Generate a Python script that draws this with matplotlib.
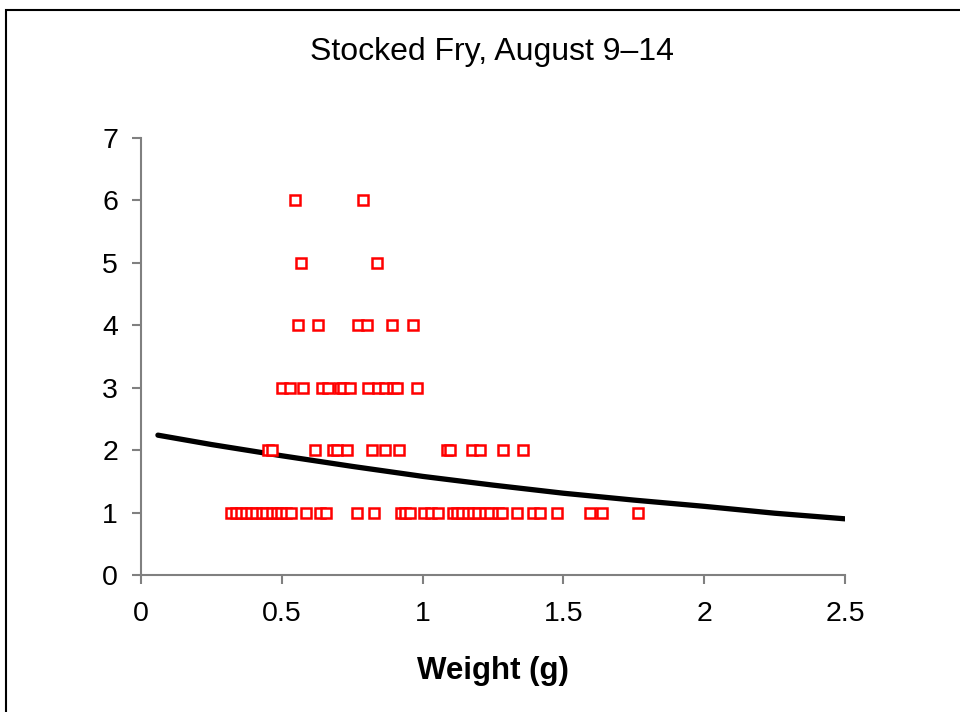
import matplotlib
matplotlib.use("Agg")
import matplotlib.pyplot as plt
from matplotlib.patches import Rectangle

plt.rcParams["font.family"] = ["Liberation Sans", "DejaVu Sans"]

# fry counts per weight
weight_1 = [0.320, 0.337, 0.355, 0.373, 0.391, 0.408, 0.430, 0.444, 0.465, 0.483,
            0.497, 0.515, 0.533, 0.586, 0.636, 0.657, 0.767, 0.827, 0.923, 0.938,
            0.955, 1.005, 1.030, 1.055, 1.108, 1.122, 1.140, 1.161, 1.179, 1.197,
            1.222, 1.239, 1.268, 1.282, 1.335, 1.392, 1.417, 1.477, 1.594, 1.637,
            1.765]
weight_2 = [0.451, 0.465, 0.618, 0.682, 0.696, 0.732, 0.820, 0.866, 0.916, 1.087,
            1.097, 1.175, 1.204, 1.286, 1.357]
weight_3 = [0.501, 0.529, 0.575, 0.643, 0.665, 0.707, 0.717, 0.742, 0.806, 0.842,
            0.866, 0.895, 0.909, 0.980]
weight_4 = [0.558, 0.629, 0.771, 0.803, 0.891, 0.966]
weight_5 = [0.568, 0.838]
weight_6 = [0.547, 0.788]

# trend line
trend_x = [0.06, 0.25, 0.5, 0.75, 1.0, 1.25, 1.5, 1.75, 2.0, 2.25, 2.5]
trend_y = [2.24, 2.09, 1.91, 1.74, 1.58, 1.44, 1.31, 1.20, 1.10, 0.99, 0.90]

x_ticks = [0, 0.5, 1, 1.5, 2, 2.5]
x_tick_labels = ["0", "0.5", "1", "1.5", "2", "2.5"]
y_ticks = list(range(0, 8))

fig = plt.figure(figsize=(9.6, 7.12), dpi=100)
ax = fig.add_axes([0.1469, 0.1924, 0.7333, 0.6138])

# outer chart frame (cut off at right/bottom in the original)
fig.patches.append(Rectangle((6 / 960, -0.1), 1.2, 1.1 - 10 / 712,
                             transform=fig.transFigure, fill=False,
                             edgecolor="black", linewidth=1.5))

groups = [weight_1, weight_2, weight_3, weight_4, weight_5, weight_6]
for count, weights in enumerate(groups, start=1):
    ax.plot(weights, [count] * len(weights), linestyle="none", marker="s",
            markersize=6.5, markerfacecolor="white", markeredgecolor="red",
            markeredgewidth=1.8, zorder=3)

ax.plot(trend_x, trend_y, color="black", linewidth=3.8, solid_capstyle="round",
        zorder=2)

ax.set_xlim(0, 2.5)
ax.set_ylim(0, 7)
ax.set_xticks(x_ticks)
ax.set_xticklabels(x_tick_labels)
ax.set_yticks(y_ticks)
for side in ["top", "right"]:
    ax.spines[side].set_visible(False)
for side in ["left", "bottom"]:
    ax.spines[side].set_color("#808080")
    ax.spines[side].set_linewidth(1.5)
ax.tick_params(axis="both", direction="out", length=6.5, width=1.5,
               color="#808080", labelsize=20.5)
ax.tick_params(axis="x", pad=12)
ax.tick_params(axis="y", pad=10)

ax.set_xlabel("Weight (g)", fontsize=22.5, fontweight="bold", labelpad=21)
fig.text(0.5125, 0.927, "Stocked Fry, August 9\u201314", ha="center",
         va="center", fontsize=23)

fig.savefig("out.png", dpi=100)
